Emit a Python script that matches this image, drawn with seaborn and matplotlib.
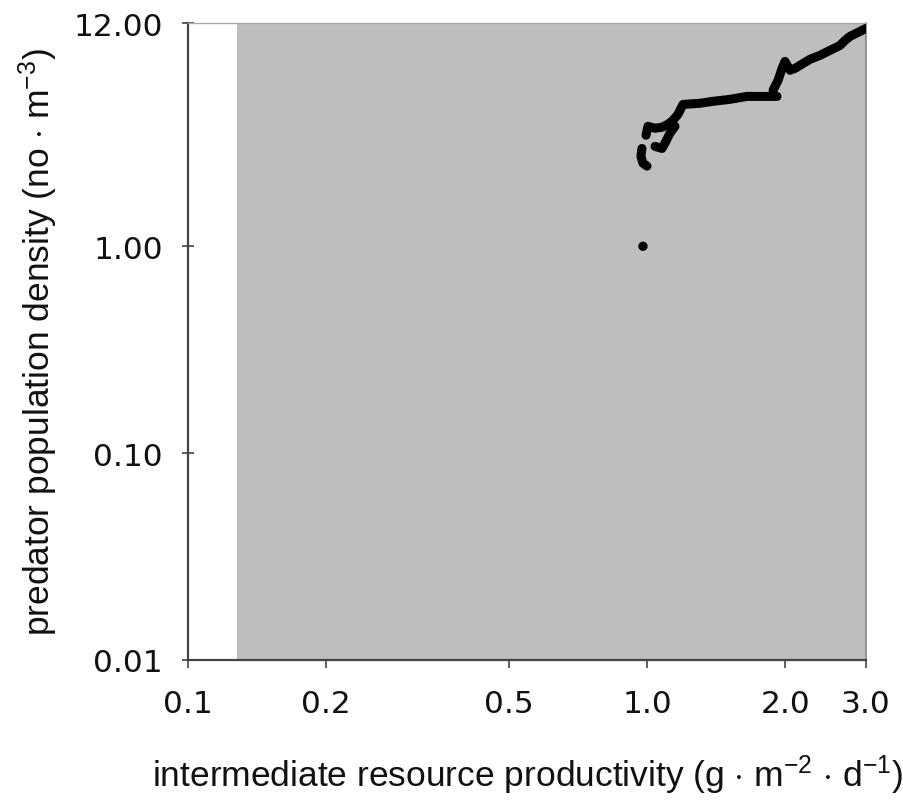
import matplotlib
matplotlib.use("Agg")
import matplotlib.pyplot as plt
import pandas as pd
import seaborn as sns

sns.set_theme(style="ticks")
plt.rcParams["font.family"] = ["Liberation Sans", "DejaVu Sans"]
plt.rcParams["mathtext.fontset"] = "custom"
plt.rcParams["mathtext.rm"] = "Liberation Sans"
plt.rcParams["mathtext.it"] = "Liberation Sans:italic"

# Axis ticks
x_ticks = [0.1, 0.2, 0.5, 1.0, 2.0, 3.0]
x_tick_labels = ["0.1", "0.2", "0.5", "1.0", "2.0", "3.0"]
y_ticks = [0.01, 0.1, 1.0, 12.0]
y_tick_labels = ["0.01", "0.10", "1.00", "12.00"]

# Productivity range where the predator can persist (shaded band)
shade_start = 0.128
shade_end = 3.0

# Isolated equilibrium at the invasion threshold
point_x = [0.98]
point_y = [1.00]

# Equilibrium branches of predator density along productivity
branch_a_x = [0.975, 0.970, 0.980, 1.000]
branch_a_y = [2.97, 2.72, 2.52, 2.44]

branch_b_x = [0.995, 1.005, 1.041, 1.078, 1.111, 1.139, 1.168, 1.198,
              1.305, 1.393, 1.516, 1.651, 1.763, 1.920]
branch_b_y = [3.44, 3.80, 3.72, 3.76, 3.89, 4.06, 4.34, 4.85,
              4.91, 5.02, 5.13, 5.30, 5.30, 5.30]

branch_c_x = [1.041, 1.078, 1.100, 1.122, 1.151]
branch_c_y = [3.04, 2.97, 3.22, 3.52, 3.80]

branch_d_x = [1.882, 1.930, 1.969, 1.998, 2.049, 2.101, 2.154, 2.265,
              2.381, 2.504, 2.633, 2.700, 2.769, 2.911, 3.000]
branch_d_y = [5.67, 6.34, 7.24, 7.83, 7.09, 7.24, 7.49, 8.01,
              8.37, 8.85, 9.35, 9.89, 10.34, 10.93, 11.30]

branches = pd.concat([
    pd.DataFrame({"productivity": bx, "density": by, "branch": name})
    for name, bx, by in [("a", branch_a_x, branch_a_y),
                         ("b", branch_b_x, branch_b_y),
                         ("c", branch_c_x, branch_c_y),
                         ("d", branch_d_x, branch_d_y)]
], ignore_index=True)
single = pd.DataFrame({"productivity": point_x, "density": point_y})

fig = plt.figure(figsize=(9.04, 8.04), dpi=100)
ax = fig.add_axes([188 / 904, 1 - 661 / 804, (866 - 188) / 904, (661 - 24) / 804])
ax.set_xscale("log")
ax.set_yscale("log")
ax.set_xlim(0.1, 3.0)
ax.set_ylim(0.01, 12.0)
ax.set_facecolor("white")

ax.axvspan(shade_start, shade_end, color="#bebebe", lw=0, zorder=0)

sns.lineplot(data=branches, x="productivity", y="density", units="branch",
             estimator=None, sort=False, color="black", lw=6.5,
             solid_capstyle="round", solid_joinstyle="round", ax=ax, zorder=3)
sns.scatterplot(data=single, x="productivity", y="density", color="black",
                s=45, edgecolor="none", ax=ax, zorder=3)

ax.set_xticks(x_ticks)
ax.set_xticklabels(x_tick_labels, family="DejaVu Sans")
ax.set_yticks(y_ticks)
ax.set_yticklabels(y_tick_labels, family="DejaVu Sans")
ax.minorticks_off()

ax.tick_params(axis="x", direction="out", length=6, width=1.2, color="#444444",
               labelsize=22.5, pad=15, labelcolor="#111111")
ax.tick_params(axis="y", direction="inout", length=8, width=1.2, color="#444444",
               labelsize=22.5, pad=14, labelcolor="#111111")

for side in ["left", "bottom"]:
    ax.spines[side].set_color("#444444")
    ax.spines[side].set_linewidth(1.6)
ax.spines["top"].set_color("#aaaaaa")
ax.spines["top"].set_linewidth(1.0)
ax.spines["right"].set_color("#888888")
ax.spines["right"].set_linewidth(1.2)

ax.set_xlabel("intermediate resource productivity (g $\\cdot$ m$^{\\mathregular{-2}}$ $\\cdot$ d$^{\\mathregular{-1}}$)",
              fontsize=25.5, color="#111111")
ax.set_ylabel("predator population density (no $\\cdot$ m$^{\\mathregular{-3}}$)",
              fontsize=25.5, color="#111111")
ax.xaxis.set_label_coords(0.5, -0.145)
ax.yaxis.set_label_coords(-0.189, 0.5)

fig.savefig("out.png", dpi=100, facecolor="white")
